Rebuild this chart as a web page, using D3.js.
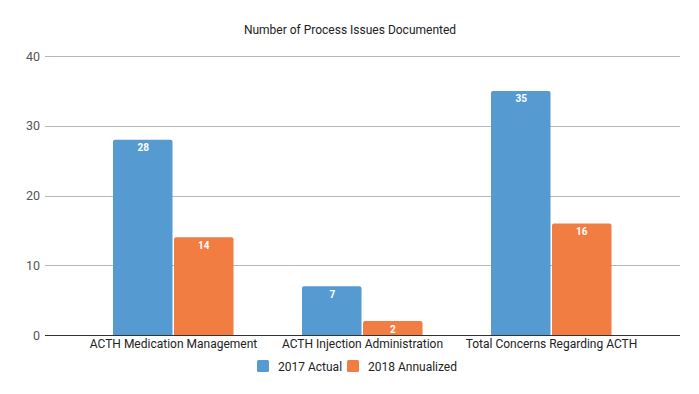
<!DOCTYPE html>
<html>
<head>
<meta charset="utf-8">
<script src="https://cdn.jsdelivr.net/npm/d3@7"></script>
<style>
  body { margin: 0; background: #fff; }
  svg { display: block; font-family: Roboto, Arial, sans-serif; }
</style>
</head>
<body>
<div class="chart"></div>
<script>
const categories = ['ACTH Medication Management', 'ACTH Injection Administration', 'Total Concerns Regarding ACTH'];
const seriesNames = ['2017 Actual', '2018 Annualized'];
const actual2017 = [28, 7, 35];
const annualized2018 = [14, 2, 16];
const yTicks = [0, 10, 20, 30, 40];

const width = 699;
const height = 394;
const colors = ['#559bd2', '#f27d42'];

const svg = d3.select('.chart')
  .append('svg')
  .attr('width', width)
  .attr('height', height);

const plotLeft = 45, plotRight = 680;
const y = d3.scaleLinear().domain([0, 40]).range([335, 56]);
const x0 = d3.scaleBand().domain(categories).range([79, 646]);
const x1 = d3.scaleBand().domain(seriesNames).range([34, x0.bandwidth() - 34]);

// title
svg.append('text')
  .attr('x', 350)
  .attr('y', 34)
  .attr('text-anchor', 'middle')
  .style('font-size', '12px')
  .style('fill', '#222')
  .text('Number of Process Issues Documented');

// gridlines + y labels
const grid = svg.append('g');
yTicks.forEach(function(t) {
  grid.append('line')
    .attr('x1', plotLeft).attr('x2', plotRight)
    .attr('y1', Math.round(y(t)) + 0.5).attr('y2', Math.round(y(t)) + 0.5)
    .attr('stroke', t === 0 ? '#333' : '#b7b7b7')
    .attr('stroke-width', 1);
  grid.append('text')
    .attr('x', 40)
    .attr('y', y(t) + 4.5)
    .attr('text-anchor', 'end')
    .style('font-size', '12.5px')
    .style('fill', '#555')
    .text(t);
});

const rows = categories.map(function(c, i) {
  return { cat: c, values: [actual2017[i], annualized2018[i]] };
});

const groups = svg.selectAll('.group')
  .data(rows)
  .enter()
  .append('g')
  .attr('class', 'group')
  .attr('transform', function(d) { return 'translate(' + x0(d.cat) + ',0)'; });

const bars = groups.selectAll('.bar')
  .data(function(d) { return d.values.map(function(v, j) { return { name: seriesNames[j], value: v, j: j }; }); })
  .enter()
  .append('g')
  .attr('class', 'bar');

bars.append('path')
  .attr('fill', function(d) { return colors[d.j]; })
  .attr('d', function(d) {
    const bx = x1(d.name) + (d.j === 0 ? 0 : 0.5);
    const bw = x1.bandwidth() - 1;
    const top = y(d.value), bot = y(0);
    const r = 2;
    return 'M' + bx + ',' + bot +
      'V' + (top + r) + 'Q' + bx + ',' + top + ' ' + (bx + r) + ',' + top +
      'H' + (bx + bw - r) + 'Q' + (bx + bw) + ',' + top + ' ' + (bx + bw) + ',' + (top + r) +
      'V' + bot + 'Z';
  });

bars.append('text')
  .attr('x', function(d) { return x1(d.name) + x1.bandwidth() / 2; })
  .attr('y', function(d) { return y(d.value) + 11.5; })
  .attr('text-anchor', 'middle')
  .style('font-size', '10px')
  .style('font-weight', 'bold')
  .style('fill', '#fff')
  .text(function(d) { return d.value; });

// category labels
svg.selectAll('.cat')
  .data(categories)
  .enter()
  .append('text')
  .attr('class', 'cat')
  .attr('x', function(d) { return x0(d) + x0.bandwidth() / 2; })
  .attr('y', 348)
  .attr('text-anchor', 'middle')
  .style('font-size', '12px')
  .style('fill', '#222')
  .text(function(d) { return d; });

// legend
const legendX = [257, 347];
const legend = svg.selectAll('.legend')
  .data(seriesNames)
  .enter()
  .append('g')
  .attr('class', 'legend')
  .attr('transform', function(_, i) { return 'translate(' + legendX[i] + ',360)'; });

legend.append('rect')
  .attr('width', 12)
  .attr('height', 12)
  .attr('rx', 1.5)
  .style('fill', function(_, i) { return colors[i]; });

legend.append('text')
  .attr('x', 21)
  .attr('y', 10.5)
  .style('font-size', '12px')
  .style('fill', '#222')
  .text(function(d) { return d; });
</script>
</body>
</html>
